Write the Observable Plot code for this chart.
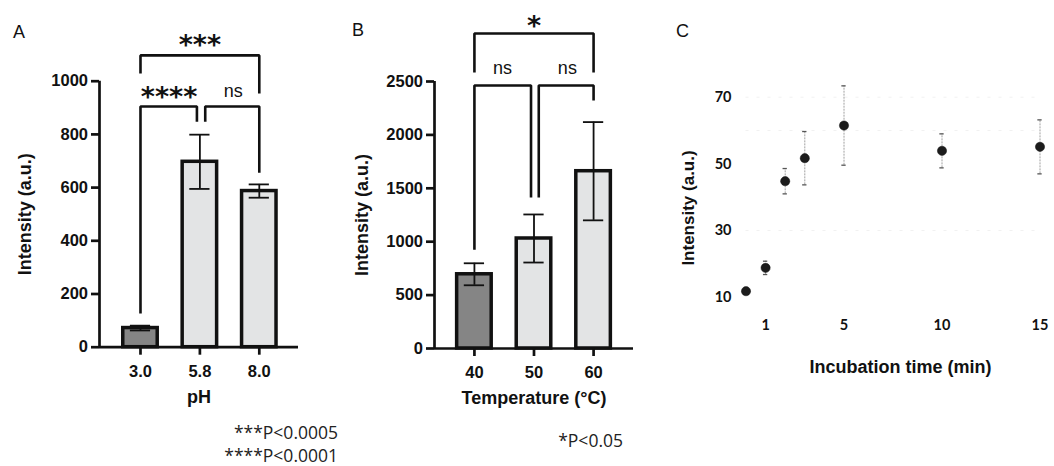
<!DOCTYPE html>
<html>
<head>
<meta charset="utf-8">
<script src="https://cdn.jsdelivr.net/npm/d3@7"></script>
<script src="https://cdn.jsdelivr.net/npm/@observablehq/plot@0.6"></script>
<style>
  html, body { margin: 0; padding: 0; background: #fff; }
  #wrap { position: relative; width: 1054px; height: 466px; overflow: hidden; background: #fff; }
  #wrap svg { position: absolute; top: 0; }
  .note { position: absolute; font-family: "Open Sans", sans-serif; font-size: 17.5px; line-height: 17.5px; color: #222; white-space: nowrap; text-align: right; }
</style>
</head>
<body>
<div id="wrap"></div>
<script>
// ---------- data ----------
const panelLabels = ["A", "B", "C"];
const yTitle = "Intensity (a.u.)";

// Panel A : pH
const phLabels = ["3.0", "5.8", "8.0"];
const phMeans = [72, 697, 587];
const phErrors = [9, 102, 25];
const phTicks = [0, 200, 400, 600, 800, 1000];
const phTitle = "pH";
const phBracketFrom = [1, 1, 2.09];
const phBracketTo = [3, 1.95, 3];
const phBracketLevel = [1097, 905, 905];
const phFootFrom = [1029, 127, 848];
const phFootTo = [954, 848, 656];
const phSigText = ["***", "****", "ns"];
const phSigX = [2, 1.48, 2.56];
const phSigY = [1157, 960, 962];

// Panel B : temperature
const tempLabels = ["40", "50", "60"];
const tempMeans = [695, 1030, 1660];
const tempErrors = [103, 225, 460];
const tempTicks = [0, 500, 1000, 1500, 2000, 2500];
const tempTitle = "Temperature (°C)";
const tempBracketFrom = [1, 1, 2.08];
const tempBracketTo = [3, 1.95, 3];
const tempBracketLevel = [2949, 2462, 2462];
const tempFootFrom = [2584, 924, 1414];
const tempFootTo = [2584, 1414, 2322];
const tempSigText = ["*", "ns", "ns"];
const tempSigX = [2, 1.47, 2.56];
const tempSigY = [3071, 2622, 2622];

// Panel C : incubation time
const timeMin = [0, 1, 2, 3, 5, 10, 15];
const timeMeans = [11.8, 18.8, 44.8, 51.7, 61.5, 53.9, 55.1];
const timeErrors = [0.5, 2.0, 3.8, 8.0, 11.9, 5.1, 8.1];
const timeXTicks = [1, 5, 10, 15];
const timeYTicks = [10, 30, 50, 70];
const timeGrid = [30, 60, 70];
const timeTitle = "Incubation time (min)";

// footnotes
const footA = ["***P<0.0005", "****P<0.0001"];
const footB = ["*P<0.05"];

// ---------- drawing ----------
const H = 410;
const INK = "#111";
const DARK = "#858585";
const LIGHT = "#e3e4e5";
const SANS = "Liberation Sans, Arial, sans-serif";
const HW = 0.29;   // half bar width (x units)
const CAP = 0.17;  // half cap width (x units)

function barPanel(o) {
  const rows = o.labels.map((label, k) => ({
    i: k + 1, label, mean: o.means[k], err: o.errors[k], fill: k === 0 ? DARK : LIGHT
  }));
  const path = o.from.flatMap((f, k) => [
    {z: k, x: f, y: o.footFrom[k]},
    {z: k, x: f, y: o.level[k]},
    {z: k, x: o.to[k], y: o.level[k]},
    {z: k, x: o.to[k], y: o.footTo[k]}
  ]);
  const sig = o.sigText.map((t, k) => ({t, x: o.sigX[k], y: o.sigY[k], star: t.includes("*")}));
  return Plot.plot({
    width: o.width, height: H,
    marginLeft: o.ml, marginRight: o.mr, marginTop: o.mt, marginBottom: H - o.y0,
    x: {domain: o.xDomain},
    y: {domain: [0, o.yTicks[o.yTicks.length - 1]]},
    color: {type: "identity"},
    style: {fontFamily: SANS, color: INK, background: "transparent", overflow: "visible"},
    marks: [
      Plot.rect(rows, {x1: d => d.i - HW, x2: d => d.i + HW, y1: 0, y2: "mean", fill: "fill", stroke: INK, strokeWidth: 3.5}),
      Plot.ruleX(rows, {x: "i", y1: d => d.mean - d.err, y2: d => d.mean + d.err, stroke: INK, strokeWidth: 1.8}),
      Plot.ruleY(rows, {y: d => d.mean + d.err, x1: d => d.i - CAP, x2: d => d.i + CAP, stroke: INK, strokeWidth: 1.8}),
      Plot.ruleY(rows, {y: d => d.mean - d.err, x1: d => d.i - CAP, x2: d => d.i + CAP, stroke: INK, strokeWidth: 1.8}),
      Plot.ruleY([0], {stroke: INK, strokeWidth: 2.7}),
      Plot.ruleX([o.xDomain[0]], {stroke: INK, strokeWidth: 2.7}),
      Plot.axisY({ticks: o.yTicks, tickFormat: "d", tickSize: 8, tickPadding: 3.5, strokeWidth: 2.7,
        fontSize: 16.5, fontWeight: "bold", label: null}),
      Plot.axisX({ticks: [1, 2, 3], tickFormat: i => o.labels[i - 1], tickSize: 8, tickPadding: 10, strokeWidth: 2.7,
        fontSize: 16.5, fontWeight: "bold", label: null}),
      Plot.line(path, {x: "x", y: "y", z: "z", stroke: INK, strokeWidth: 2.6, strokeLinejoin: "miter", strokeLinecap: "butt"}),
      Plot.text(sig.filter(d => d.star), {x: "x", y: "y", text: "t", fontFamily: "DejaVu Sans", fontWeight: "bold",
        fontSize: 27, dy: 6, fill: INK}),
      Plot.text(sig.filter(d => !d.star), {x: "x", y: "y", text: "t", fontSize: 18, fontWeight: "normal", fill: INK}),
      Plot.text([o.xTitle], {frameAnchor: "bottom", dy: o.xTitleDy, textAnchor: "middle", lineAnchor: "middle",
        fontSize: 18, fontWeight: "bold", fill: INK}),
      Plot.text([yTitle], {frameAnchor: "left", dx: o.yTitleDx, rotate: -90, textAnchor: "middle", lineAnchor: "middle",
        fontSize: 18, fontWeight: "bold", fill: INK}),
      Plot.text([o.panel], {frameAnchor: "top-left", dx: o.pdx, dy: o.pdy, textAnchor: "middle", lineAnchor: "middle",
        fontSize: 18, fontWeight: "normal", fill: INK})
    ]
  });
}

const wrap = document.getElementById("wrap");

const svgA = barPanel({
  labels: phLabels, means: phMeans, errors: phErrors, yTicks: phTicks, xTitle: phTitle, panel: panelLabels[0],
  from: phBracketFrom, to: phBracketTo, level: phBracketLevel, footFrom: phFootFrom, footTo: phFootTo,
  sigText: phSigText, sigX: phSigX, sigY: phSigY,
  width: 320, ml: 99, mr: 22, mt: 80.7, y0: 346.7, xDomain: [0.31, 3.66],
  xTitleDy: 50.3, yTitleDx: -74, pdx: -80.5, pdy: -49
});
svgA.style.left = "0px";
wrap.appendChild(svgA);

const svgB = barPanel({
  labels: tempLabels, means: tempMeans, errors: tempErrors, yTicks: tempTicks, xTitle: tempTitle, panel: panelLabels[1],
  from: tempBracketFrom, to: tempBracketTo, level: tempBracketLevel, footFrom: tempFootFrom, footTo: tempFootTo,
  sigText: tempSigText, sigX: tempSigX, sigY: tempSigY,
  width: 330, ml: 114, mr: 17, mt: 81, y0: 348, xDomain: [0.33, 3.67],
  xTitleDy: 50, yTitleDx: -72, pdx: -76.5, pdy: -51.7
});
svgB.style.left = "320px";
wrap.appendChild(svgB);

const timeRows = timeMin.map((t, k) => ({t, mean: timeMeans[k], err: timeErrors[k]}));
const svgC = Plot.plot({
  width: 404, height: H,
  marginLeft: 95.5, marginRight: 14.5, marginTop: 96.7, marginBottom: H - 296.7,
  x: {domain: [0, 15]},
  y: {domain: [10, 70]},
  style: {fontFamily: SANS, color: INK, background: "transparent", overflow: "visible"},
  marks: [
    Plot.ruleY(timeGrid, {stroke: "#f1f1f1", strokeWidth: 1, strokeDasharray: "3,8"}),
    Plot.ruleX(timeRows, {x: "t", y1: d => d.mean - d.err, y2: d => d.mean + d.err, stroke: "#a0a0a0", strokeWidth: 1, strokeDasharray: "2,1"}),
    Plot.ruleY(timeRows, {y: d => d.mean + d.err, x1: d => d.t - 0.11, x2: d => d.t + 0.11, stroke: "#555", strokeWidth: 1.3}),
    Plot.ruleY(timeRows, {y: d => d.mean - d.err, x1: d => d.t - 0.11, x2: d => d.t + 0.11, stroke: "#555", strokeWidth: 1.3}),
    Plot.dot(timeRows, {x: "t", y: "mean", r: 4.6, fill: "#1c1c1c", stroke: "#111", strokeWidth: 0.5}),
    Plot.axisY({ticks: timeYTicks, tickSize: 0, tickPadding: 14.5, fontFamily: "Lato", fontWeight: "bold", fontSize: 14.5, label: null}),
    Plot.axisX({ticks: timeXTicks, tickSize: 0, tickPadding: 23, fontFamily: "Lato", fontWeight: "bold", fontSize: 14.5, label: null}),
    Plot.text([timeTitle], {frameAnchor: "bottom", dx: 7.5, dy: 70, textAnchor: "middle", lineAnchor: "middle",
      fontSize: 18, fontWeight: "bold", fill: INK}),
    Plot.text([yTitle], {frameAnchor: "left", dx: -57, dy: 10.8, rotate: -90, textAnchor: "middle", lineAnchor: "middle",
      fontSize: 17, fontWeight: "bold", fill: INK}),
    Plot.text([panelLabels[2]], {frameAnchor: "top-left", dx: -63.5, dy: -65.7, textAnchor: "middle", lineAnchor: "middle",
      fontSize: 18, fontWeight: "normal", fill: INK})
  ]
});
svgC.style.left = "650px";
wrap.appendChild(svgC);

// footnotes
function note(text, right, centerY) {
  const d = document.createElement("div");
  d.className = "note";
  d.textContent = text;
  d.style.right = (1054 - right) + "px";
  d.style.top = (centerY - 9.3) + "px";
  wrap.appendChild(d);
}
note(footA[0], 338, 433);
note(footA[1], 338, 456);
note(footB[0], 623, 441);
</script>
</body>
</html>
